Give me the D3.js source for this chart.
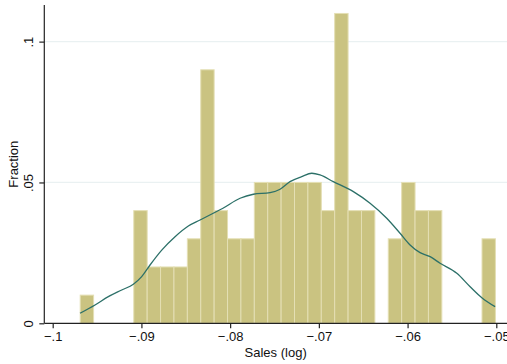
<!DOCTYPE html>
<html>
<head>
<meta charset="utf-8">
<script src="https://cdn.jsdelivr.net/npm/d3@7"></script>
<style>
  html, body { margin: 0; padding: 0; background: #fff; }
  svg { display: block; font-family: "Liberation Sans", Arial, sans-serif; }
</style>
</head>
<body>
<svg id="chart" width="507" height="364"></svg>
<script>
// ---- data ----
const binMin = -0.0969;
const binMax = -0.0501;
const fractions = [0.01, 0, 0, 0, 0.04, 0.02, 0.02, 0.02, 0.03, 0.09, 0.04, 0.03, 0.03,
  0.05, 0.05, 0.05, 0.05, 0.05, 0.04, 0.11, 0.04, 0.04, 0, 0.03, 0.05, 0.04, 0.04,
  0, 0, 0, 0.03];
const densityX = [-0.09692, -0.09523, -0.09373, -0.09222, -0.09091, -0.08997, -0.08903,
  -0.08771, -0.08621, -0.08471, -0.08339, -0.08207, -0.08086, -0.07888, -0.07738,
  -0.07550, -0.07437, -0.07325, -0.07193, -0.07080, -0.06987, -0.06837, -0.06611,
  -0.06423, -0.06235, -0.06085, -0.05972, -0.05859, -0.05746, -0.05634, -0.05445,
  -0.05295, -0.05163, -0.05014];
const densityY = [0.00355, 0.0065, 0.00945, 0.01183, 0.01385, 0.01655, 0.0207, 0.0260,
  0.03075, 0.03455, 0.03668, 0.03881, 0.04077, 0.04439, 0.04581, 0.04638, 0.04759,
  0.05028, 0.05206, 0.05327, 0.05266, 0.05028, 0.04673, 0.04261, 0.03729, 0.03196,
  0.02781, 0.02507, 0.02365, 0.02131, 0.01776, 0.0130, 0.00909, 0.0059];
const xTicks = [-0.1, -0.09, -0.08, -0.07, -0.06, -0.05];
const xTickLabels = ["\u2212.1", "\u2212.09", "\u2212.08", "\u2212.07", "\u2212.06", "\u2212.05"];
const yTicks = [0, 0.05, 0.1];
const yTickLabels = ["0", ".05", ".1"];
const xTitle = "Sales (log)";
const yTitle = "Fraction";

// ---- layout ----
const svg = d3.select("#chart");
const W = 507, H = 364;
const axisX = 44.3, axisY = 323.3, plotTop = 5;
const fs = 13;

const x = d3.scaleLinear().domain([-0.1, -0.05]).range([52.7, 496.3]);
const y = d3.scaleLinear().domain([0, 0.113]).range([axisY, plotTop]);

// grid lines
svg.append("g").selectAll("line").data(yTicks.filter(d => d > 0)).join("line")
  .attr("x1", axisX).attr("x2", W)
  .attr("y1", d => y(d)).attr("y2", d => y(d))
  .attr("stroke", "#eaf1f2").attr("stroke-width", 1.3);

// bars
const binW = (binMax - binMin) / fractions.length;
const bins = fractions.map((f, i) => ({ x0: binMin + i * binW, x1: binMin + (i + 1) * binW, f }));
svg.append("g").selectAll("rect").data(bins.filter(b => b.f > 0)).join("rect")
  .attr("x", d => x(d.x0))
  .attr("width", d => x(d.x1) - x(d.x0))
  .attr("y", d => y(d.f))
  .attr("height", d => y(0) - y(d.f))
  .attr("fill", "#cac381")
  .attr("stroke", "#e4dfb4")
  .attr("stroke-width", 1);

// density line
const line = d3.line().x((d, i) => x(densityX[i])).y(d => y(d)).curve(d3.curveMonotoneX);
svg.append("path").datum(densityY)
  .attr("d", line)
  .attr("fill", "none")
  .attr("stroke", "#2c7068")
  .attr("stroke-width", 1.3);

// y axis
const yAxis = d3.axisLeft(y).tickValues(yTicks).tickSize(5).tickSizeOuter(0)
  .tickFormat((d, i) => yTickLabels[i]);
const gy = svg.append("g").attr("transform", `translate(${axisX},0)`).call(yAxis);
gy.select(".domain").attr("d", `M0,${plotTop}V${axisY}`).attr("stroke", "#222").attr("stroke-width", 1.2);
gy.selectAll(".tick line").attr("stroke", "#222").attr("stroke-width", 1.2);
gy.selectAll(".tick text")
  .attr("font-size", fs).attr("fill", "#111")
  .attr("transform", "rotate(-90)")
  .attr("x", 0).attr("y", -11)
  .attr("text-anchor", "middle")
  .attr("dy", 0);

// x axis
const xAxis = d3.axisBottom(x).tickValues(xTicks).tickSize(5).tickSizeOuter(0)
  .tickFormat((d, i) => xTickLabels[i]);
const gx = svg.append("g").attr("transform", `translate(0,${axisY})`).call(xAxis);
gx.select(".domain").attr("d", `M${axisX},0H${W}`).attr("stroke", "#222").attr("stroke-width", 1.2);
gx.selectAll(".tick line").attr("stroke", "#222").attr("stroke-width", 1.2);
gx.selectAll(".tick text").attr("font-size", fs).attr("fill", "#111").attr("y", 17.5).attr("dy", 0);

// titles
svg.append("text").attr("x", (axisX + W) / 2).attr("y", 357)
  .attr("text-anchor", "middle").attr("font-size", fs).attr("fill", "#111").text(xTitle);
svg.append("text").attr("transform", `translate(18,${(plotTop + axisY) / 2}) rotate(-90)`)
  .attr("text-anchor", "middle").attr("font-size", fs).attr("fill", "#111").text(yTitle);
</script>
</body>
</html>
